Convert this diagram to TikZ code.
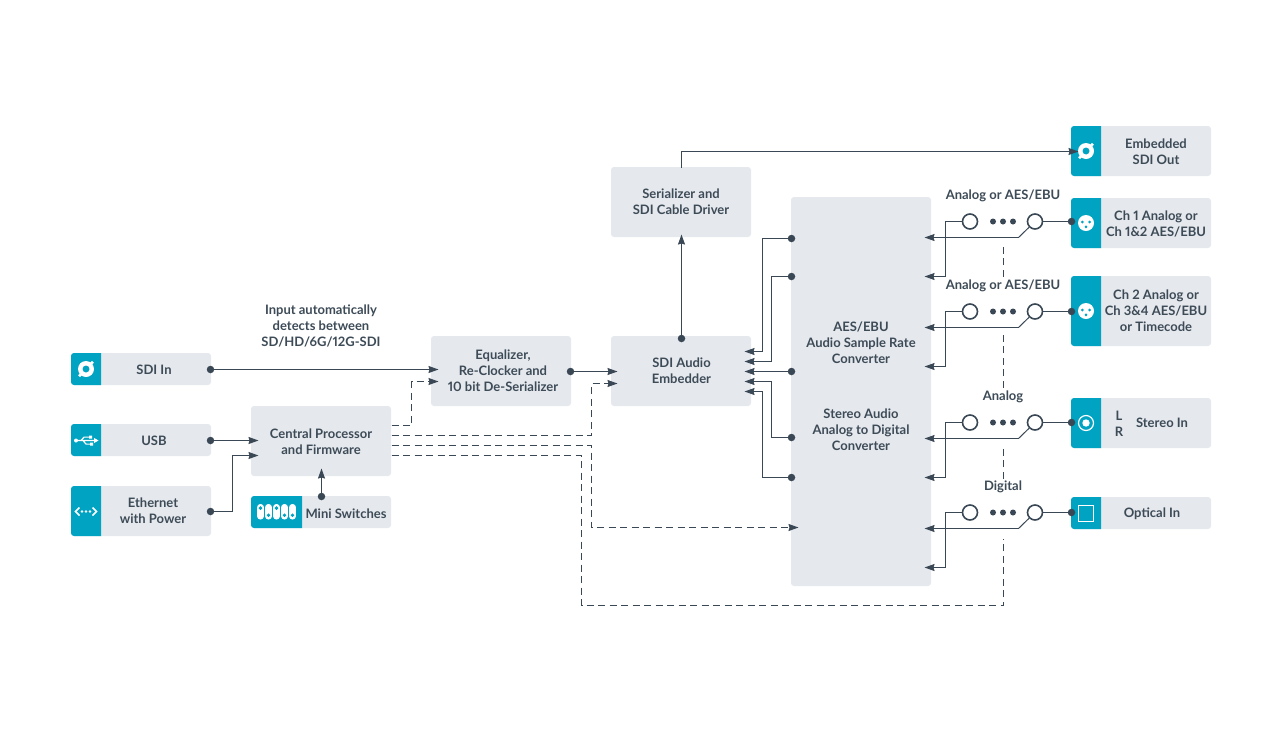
\documentclass[tikz,border=0pt]{standalone}
\usepackage{fontspec}
\setmainfont{Lato}[UprightFont=* Medium,BoldFont=* Bold,Numbers=Proportional]
\usetikzlibrary{arrows.meta,calc}
\definecolor{boxc}{HTML}{E5E8ED}
\definecolor{tealc}{HTML}{00A3C1}
\definecolor{linec}{HTML}{3A4855}
\definecolor{textc}{HTML}{3D4B57}
\tikzset{
  x=1pt,y=-1pt,
  box/.style={fill=boxc,rounded corners=3pt,inner sep=0pt,outer sep=0pt},
  lab/.style={text=textc,font=\fontsize{13}{16}\selectfont\bfseries,align=center,inner sep=0pt},
  wire/.style={draw=linec,line width=1pt},
  arrowline/.style={wire,-{Stealth[length=10pt,width=7pt,inset=1pt]}},
  dasharrow/.style={arrowline,dash pattern=on 7pt off 4.5pt},
  dashplain/.style={wire,dash pattern=on 7pt off 4.5pt},
  pt/.style={circle,fill=linec,inner sep=0pt,minimum size=7.5pt},
  ring/.style={circle,draw=linec,line width=1.6pt,fill=white,inner sep=0pt,minimum size=15pt},
  smalldot/.style={circle,fill=linec,inner sep=0pt,minimum size=6pt},
}
% x1 y1 x2 y2 name
\newcommand{\blockbox}[5]{\node[box,minimum width=#3pt-#1pt,minimum height=#4pt-#2pt] (#5) at ({(#1+#3)/2},{(#2+#4)/2}) {};}
% x1 y1 x2 y2 tealright
\newcommand{\tealpart}[5]{\fill[tealc] (#5,#2) [rounded corners=3pt] -- (#1,#2) -- (#1,#4) [sharp corners] -- (#5,#4) -- cycle;}
\newcommand{\sdiicon}[2]{%
  \begin{scope}[shift={(#1,#2)}]
    \fill[white,even odd rule] (0,0) circle (8pt) (0,0) circle (3.6pt);
    \fill[white] (6,-6.2) circle (1.9pt) (-6,6.2) circle (1.9pt);
    \fill[tealc] (8.6,-3.4) circle (1.1pt) (-8.6,3.4) circle (1.1pt) (3.2,-8.6) circle (1.1pt) (-3.2,8.6) circle (1.1pt);
  \end{scope}}
\newcommand{\xlricon}[2]{%
  \begin{scope}[shift={(#1,#2)}]
    \fill[white] (0,0) circle (8pt);
    \fill[tealc] (-3.6,-1) circle (1.5pt) (3.6,-1) circle (1.5pt) (0,3.8) circle (1.5pt);
  \end{scope}}
\newcommand{\swrow}[3]{% #1 y, #2 name, #3 end dot
  \node[ring] (#2a) at (969.5,#1) {};
  \node[ring] (#2b) at (1034.5,#1) {};
  \node[smalldot] at (992.5,#1) {};
  \node[smalldot] at (1002.5,#1) {};
  \node[smalldot] at (1012.5,#1) {};
  \coordinate (#2u) at (924,{#1+16});
  \coordinate (#2l) at (924,{#1+55});
  \coordinate (#2k) at (1018,{#1+16});
  \coordinate (#2m) at (945,{#1});
  \draw[wire] (#2b) -- (#3);
  \draw[wire] (#2b) -- (#2k);
  \draw[arrowline] (#2k) -- (#2u);
  \draw[arrowline] (#2a) -- (#2m) -- (945,{#1+55}) -- (#2l);
}
\begin{document}
\begin{tikzpicture}
\useasboundingbox (0,0) rectangle (1280,740);
\fill[white] (0,0) rectangle (1280,740);
% ---- boxes
\blockbox{71}{353}{211}{385}{sdiin}
\blockbox{71}{424}{211}{456}{usb}
\blockbox{71}{486}{211}{536}{eth}
\blockbox{251}{406}{391}{476}{cpu}
\blockbox{251}{496}{391}{528}{mini}
\blockbox{431}{336}{571}{406}{eq}
\blockbox{611}{336}{751}{406}{emb}
\blockbox{611}{167}{751}{237}{ser}
\blockbox{791}{197}{931}{586}{conv}
\blockbox{1071}{126}{1211}{176}{out}
\blockbox{1071}{198}{1211}{248}{chone}
\blockbox{1071}{276}{1211}{346}{chtwo}
\blockbox{1071}{398}{1211}{448}{stereo}
\blockbox{1071}{497}{1211}{529}{optical}
\tealpart{71}{353}{211}{385}{101}
\tealpart{71}{424}{211}{456}{101}
\tealpart{71}{486}{211}{536}{101}
\tealpart{251}{496}{391}{528}{302}
\tealpart{1071}{126}{1211}{176}{1101}
\tealpart{1071}{198}{1211}{248}{1101}
\tealpart{1071}{276}{1211}{346}{1101}
\tealpart{1071}{398}{1211}{448}{1101}
\tealpart{1071}{497}{1211}{529}{1101}
% ---- icons
\sdiicon{86}{369}
\sdiicon{1086}{151}
\xlricon{1086}{223}
\xlricon{1086}{311}
% usb
\begin{scope}[shift={(86,440.5)}]
  \draw[white,line width=1.2pt] (-10,0) -- (9,0) (-5,0) -- (-2,-3.4) -- (3,-3.4) (-3,0) -- (0,3.6) -- (4,3.6);
  \fill[white] (-10,0) circle (2pt) (3,-5) rectangle (6,-2) (4,2) rectangle (7,5.2) (8,-2.6) -- (12.5,0) -- (8,2.6) -- cycle;
\end{scope}
% ethernet
\begin{scope}[shift={(86,511.5)}]
  \draw[white,line width=1.5pt] (-6.5,-4) -- (-10.5,0) -- (-6.5,4) (6.5,-4) -- (10.5,0) -- (6.5,4);
  \fill[white] (-4,0) circle (1.4pt) (0,0) circle (1.4pt) (4,0) circle (1.4pt);
\end{scope}
% mini switches
\foreach \px/\dy in {260.5/-1,268.5/1,276.5/-1,284.5/1,292.5/1}{
  \fill[white,rounded corners=3.2pt] ({\px-3.4},504) rectangle ({\px+3.4},519.5);
  \fill[tealc] (\px,{511.7+\dy*3.6}) circle (1.9pt);
}
% stereo
\draw[white,line width=1.2pt] (1086,423) circle (7.5pt);
\fill[white] (1086,423) circle (3.7pt);
% optical
\draw[white,line width=1pt] (1078.5,505.5) rectangle (1093.5,521);
% ---- labels
\node[lab] at (154,369.5) {SDI In};
\node[lab] at (154,441) {USB};
\node[lab] at (153,511) {Ethernet\\with Power};
\node[lab] at (321,441.5) {Central Processor\\and Firmware};
\node[lab] at (346,513.5) {Mini Switches};
\node[lab] at (503,371) {Equalizer,\\Re-Clocker and\\10 bit De-Serializer};
\node[lab] at (681.5,371) {SDI Audio\\Embedder};
\node[lab] at (681,202) {Serializer and\\SDI Cable Driver};
\node[lab] at (861,343) {AES/EBU\\Audio Sample Rate\\Converter};
\node[lab] at (861,430) {Stereo Audio\\Analog to Digital\\Converter};
\node[lab] at (1156,151.5) {Embedded\\SDI Out};
\node[lab] at (1156,224) {Ch 1 Analog or\\Ch 1\&2 AES/EBU};
\node[lab] at (1156,311) {Ch 2 Analog or\\Ch 3\&4 AES/EBU\\or Timecode};
\node[lab] at (1119,424) {L\\R};
\node[lab] at (1162,423) {Stereo In};
\node[lab] at (1152,513.5) {Optical In};
\node[lab] at (321,326) {Input automatically\\detects between\\SD/HD/6G/12G-SDI};
\node[lab] at (1003,195.5) {Analog or AES/EBU};
\node[lab] at (1003,285.5) {Analog or AES/EBU};
\node[lab] at (1003,396.5) {Analog};
\node[lab] at (1003,486.5) {Digital};
% ---- connectors, on the pixel grid
\begin{scope}[shift={(0.5,0.5)}]
\node[pt] (dsdi) at (210,369) {};
\node[pt] (dusb) at (210,440) {};
\node[pt] (deth) at (210,511) {};
\node[pt] (dmini) at (321,496) {};
\node[pt] (deq) at (570,371) {};
\node[pt] (demb) at (681,338) {};
\node[pt] (dc1) at (791,238) {};
\node[pt] (dc2) at (791,276) {};
\node[pt] (dc3) at (791,371) {};
\node[pt] (dc4) at (791,437) {};
\node[pt] (dc5) at (791,477) {};
\node[pt] (dch1) at (1071,221) {};
\node[pt] (dch2) at (1071,311) {};
\node[pt] (dst) at (1071,422) {};
\node[pt] (dop) at (1071,512) {};
\coordinate (cpuusb) at (258,440);
\coordinate (cpueth) at (258,455);
\coordinate (cpumini) at (321,468);
\coordinate (eqsdi) at (438,369);
\coordinate (eqdash) at (438,381);
\coordinate (embeq) at (617,371);
\coordinate (embdash) at (617,383);
\coordinate (serin) at (681,234);
\coordinate (outin) at (1078,151);
\coordinate (sertop) at (681,167);
\coordinate (convdash) at (798,527);
\coordinate (e1) at (744,351);
\coordinate (e2) at (744,361);
\coordinate (e3) at (744,371);
\coordinate (e4) at (744,381);
\coordinate (e5) at (744,391);
\coordinate (c1) at (391,425);
\coordinate (c2) at (391,435);
\coordinate (c3) at (391,445);
\coordinate (c4) at (391,455);
\draw[arrowline] (dsdi) -- (eqsdi);
\draw[arrowline] (dusb) -- (cpuusb);
\draw[arrowline] (deth) -- (232,511) -- (232,455) -- (cpueth);
\draw[arrowline] (dmini) -- (cpumini);
\draw[arrowline] (deq) -- (embeq);
\draw[arrowline] (demb) -- (serin);
\draw[arrowline] (sertop) -- (681,151) -- (outin);
\draw[arrowline] (dc1) -- (762,238) -- (762,351) -- (e1);
\draw[arrowline] (dc2) -- (771,276) -- (771,361) -- (e2);
\draw[arrowline] (dc3) -- (e3);
\draw[arrowline] (dc4) -- (771,437) -- (771,381) -- (e4);
\draw[arrowline] (dc5) -- (762,477) -- (762,391) -- (e5);
% ---- dashed connectors
\draw[dasharrow] (c1) -- (411,425) -- (411,381) -- (eqdash);
\draw[dasharrow] (c2) -- (591,435) -- (591,383) -- (embdash);
\draw[dasharrow] (c3) -- (591,445) -- (591,527) -- (convdash);
\draw[dashplain] (c4) -- (581,455) -- (581,605) -- (1003,605) -- (1003,538);
\draw[dashplain] (1003,478) -- (1003,445);
\draw[dashplain] (1003,387) -- (1003,333);
\draw[dashplain] (1003,276) -- (1003,243);
% ---- switches
\swrow{221}{sa}{dch1}
\swrow{311}{sb}{dch2}
\swrow{422}{sc}{dst}
\swrow{512}{sd}{dop}
\end{scope}
\end{tikzpicture}
\end{document}
